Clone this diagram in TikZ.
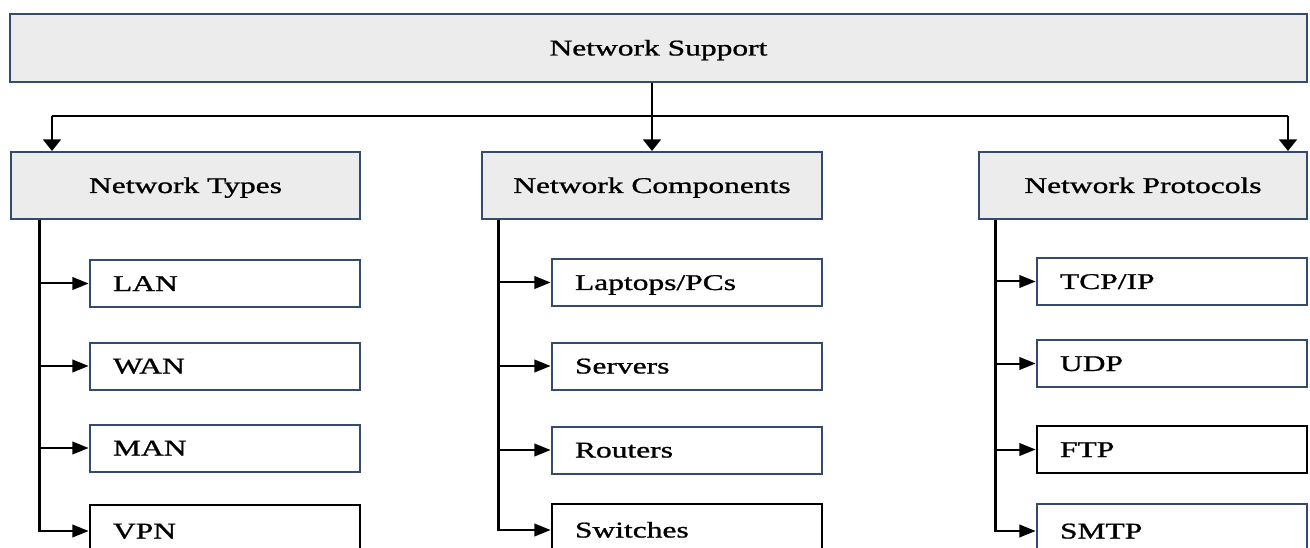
\documentclass[tikz,border=0pt]{standalone}
\usepackage{fontspec}
\setmainfont{Liberation Serif}[FakeBold=0.9]
\usetikzlibrary{arrows.meta,calc}
\definecolor{edgeblue}{RGB}{52,74,110}
\definecolor{panel}{RGB}{236,236,236}
\begin{document}
\begin{tikzpicture}[x=1pt,y=-1pt]
\useasboundingbox (0,0) rectangle (1310,548);
\clip (0,0) rectangle (1310,548);
% the whole chart is drawn in a horizontally widened canvas
\begin{scope}[x=0.7142857pt, transform canvas={xscale=1.4},
  every node/.style={font=\fontsize{22.5}{27}\selectfont, inner ysep=0pt,
    text height=15pt, text depth=0pt, line width=2pt},
  rootbox/.style={draw=edgeblue, fill=panel, minimum width={1297pt/1.4}, minimum height=68pt},
  headbox/.style={draw=edgeblue, fill=panel, minimum width={#1pt/1.4}, minimum height=67pt},
  leafbox/.style={draw=edgeblue, fill=white, minimum width={270pt/1.4}, minimum height=47pt,
    text width={224pt/1.4}, inner xsep={23pt/1.4}, align=left},
  lastbox/.style={leafbox, draw=black, minimum height=52pt},
  wire/.style={line width=2pt},
  link/.style={line width=2pt, -{Triangle[length=11.5pt,width=12.5pt]}}]

% top level
\node[rootbox] (root) at (658.5,48) {Network Support};

% second level
\node[headbox=349] (types)  at (185.5,185.5) {Network Types};
\node[headbox=340] (comps)  at (652,185.5)   {Network Components};
\node[headbox=328] (protos) at (1143,185.5)  {Network Protocols};

% network types
\node[leafbox] (lan) at (225,283.5) {LAN};
\node[leafbox] (wan) at (225,366)   {WAN};
\node[leafbox] (man) at (225,448)   {MAN};
\node[lastbox] (vpn) at (225,531)   {VPN};

% network components
\node[leafbox] (pcs)      at (687,282.5) {Laptops/PCs};
\node[leafbox] (servers)  at (687,366)   {Servers};
\node[leafbox] (routers)  at (687,450)   {Routers};
\node[lastbox] (switches) at (687,530)   {Switches};

% network protocols
\node[leafbox] (tcp)  at (1172,281.5) {TCP/IP};
\node[leafbox] (udp)  at (1172,363.5) {UDP};
\node[lastbox, minimum height=47pt] (ftp) at (1172,449.5) {FTP};
\node[leafbox, minimum height=54pt] (smtp) at (1172,531) {SMTP};

% distribution bus under the top box
\coordinate (busL) at (52,116);
\coordinate (busR) at (1288,116);
\draw[wire] (busL) -- (busR);
\draw[link] (root.south -| comps.north) -- (comps.north);
\draw[link] (busL) -- (busL |- types.north);
\draw[link] (busR) -- (busR |- protos.north);

% branches to the leaves
\foreach \leaf in {lan,wan,man,vpn}
  \draw[link] ($(types.south west)+(30,0)$) |- (\leaf.west);
\foreach \leaf in {pcs,servers,routers,switches}
  \draw[link] ($(comps.south west)+(18,0)$) |- (\leaf.west);
\foreach \leaf in {tcp,udp,ftp,smtp}
  \draw[link] ($(protos.south west)+(18,0)$) |- (\leaf.west);
\end{scope}
\end{tikzpicture}
\end{document}
